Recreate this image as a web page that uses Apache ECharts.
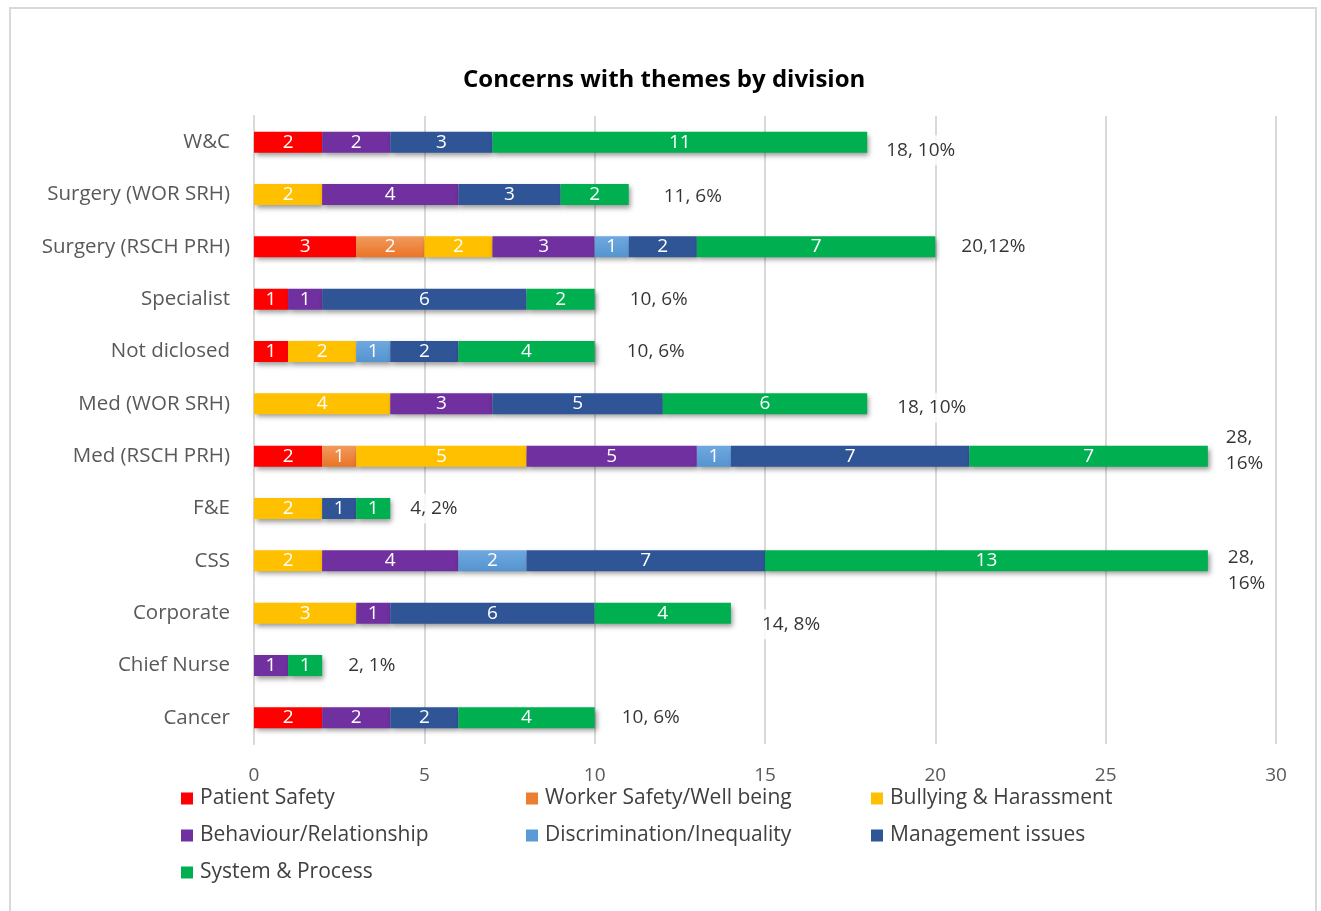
<!DOCTYPE html>
<html>
<head>
<meta charset="utf-8">
<script src="https://cdn.jsdelivr.net/npm/echarts@6/dist/echarts.min.js"></script>
<style>
html,body{margin:0;padding:0;background:#fff;}
#chart{width:1321px;height:911px;}
</style>
</head>
<body>
<div id="chart"></div>
<script>
const categories = ["W&C","Surgery (WOR SRH)","Surgery (RSCH PRH)","Specialist","Not diclosed","Med (WOR SRH)","Med (RSCH PRH)","F&E","CSS","Corporate","Chief Nurse","Cancer"];
const patientSafety   = [2,0,3,1,1,0,2,0,0,0,0,2];
const workerSafety    = [0,0,2,0,0,0,1,0,0,0,0,0];
const bullying        = [0,2,2,0,2,4,5,2,2,3,0,0];
const behaviour       = [2,4,3,1,0,3,5,0,4,1,1,2];
const discrimination  = [0,0,1,0,1,0,1,0,2,0,0,0];
const management      = [3,3,2,6,2,5,7,1,7,6,0,2];
const systemProcess   = [11,2,7,2,4,6,7,1,13,4,1,4];
const totalLabels = ["18, 10%","11, 6%","20,12%","10, 6%","10, 6%","18, 10%","28,\n16%","4, 2%","28,\n16%","14, 8%","2, 1%","10, 6%"];
const xTicks = {min:0, max:30, interval:5};

// label offsets (styling only)
const labelOffsets = [[16,8],[32,2],[23,0],[32,0],[29,0],[27,4],[15,-6],[17,0],[17,10],[28,11],[23,0],[24,0]];

const FONT = "Open Sans";
const seriesDefs = [
  {name:"Patient Safety", data:patientSafety, color:"#FF0000"},
  {name:"Worker Safety/Well being", data:workerSafety, color:{type:'linear',x:0,y:0,x2:0,y2:1,colorStops:[{offset:0,color:'#F19A5D'},{offset:1,color:'#EA7426'}]}},
  {name:"Bullying & Harassment", data:bullying, color:"#FFC000"},
  {name:"Behaviour/Relationship", data:behaviour, color:"#7030A0"},
  {name:"Discrimination/Inequality", data:discrimination, color:{type:'linear',x:0,y:0,x2:0,y2:1,colorStops:[{offset:0,color:'#6FA8DF'},{offset:1,color:'#5594D0'}]}},
  {name:"Management issues", data:management, color:"#2F5597"},
  {name:"System & Process", data:systemProcess, color:"#00B050"}
];
const legendColors = ["#FF0000","#ED7D31","#FFC000","#7030A0","#5B9BD5","#2F5597","#00B050"];

const series = seriesDefs.map(d => ({
  name:d.name, type:'bar', stack:'total', barWidth:21,
  data:d.data,
  itemStyle:{color:d.color, shadowBlur:5, shadowOffsetX:2, shadowOffsetY:3, shadowColor:'rgba(0,0,0,0.4)'},
  label:{show:true, position:'inside', color:'#fff', fontFamily:FONT, fontSize:19,
    formatter:p => p.value ? String(p.value) : ''},
  z:3
}));

const totals = categories.map((c,i)=>seriesDefs.reduce((s,d)=>s+d.data[i],0));
series.push({
  name:'Total', type:'scatter', symbolSize:0, z:5,
  data: totals.map((t,i)=>({value:[t,i], label:{offset:labelOffsets[i]}})),
  label:{show:true, position:'right', distance:0, color:'#000', fontFamily:FONT, fontSize:19,
    lineHeight:26, backgroundColor:'#fff', padding:[2,3],
    formatter:p=>totalLabels[p.dataIndex]},
  tooltip:{show:false}
});

const legendPos = [[181,788],[526,788],[871,788],[181,825],[526,825],[871,825],[181,862]];
const legends = seriesDefs.map((d,i)=>({
  data:[{name:d.name, itemStyle:{color:legendColors[i]}}],
  left:legendPos[i][0], top:legendPos[i][1], padding:0, icon:'rect', itemWidth:12, itemHeight:12, itemGap:0,
  textStyle:{fontFamily:FONT, fontSize:21, color:'#404040', padding:[0,0,0,2]}
}));

const chart = echarts.init(document.getElementById('chart'));
chart.setOption({
  animation:false,
  backgroundColor:'#fff',
  title:{text:'Concerns with themes by division', left:463, top:68, padding:0,
    textStyle:{fontFamily:FONT, fontWeight:'bold', fontSize:24, color:'#000'}},
  graphic:[{type:'rect', shape:{x:10,y:8,width:1306,height:1000}, style:{fill:'none', stroke:'#d9d9d9', lineWidth:2}, silent:true}],
  legend:legends,
  grid:{left:254, right:45, top:116, bottom:167},
  xAxis:{type:'value', min:xTicks.min, max:xTicks.max, interval:xTicks.interval,
    axisLine:{show:false}, axisTick:{show:false},
    splitLine:{lineStyle:{color:'#d9d9d9', width:2}},
    axisLabel:{fontFamily:FONT, fontSize:19, color:'#595959', margin:22}},
  yAxis:{type:'category', data:categories, inverse:true,
    axisLine:{show:true, lineStyle:{color:'#d9d9d9', width:2}}, axisTick:{show:false},
    axisLabel:{fontFamily:FONT, fontSize:20.5, color:'#595959', margin:24}},
  series:series
});
</script>
</body>
</html>
